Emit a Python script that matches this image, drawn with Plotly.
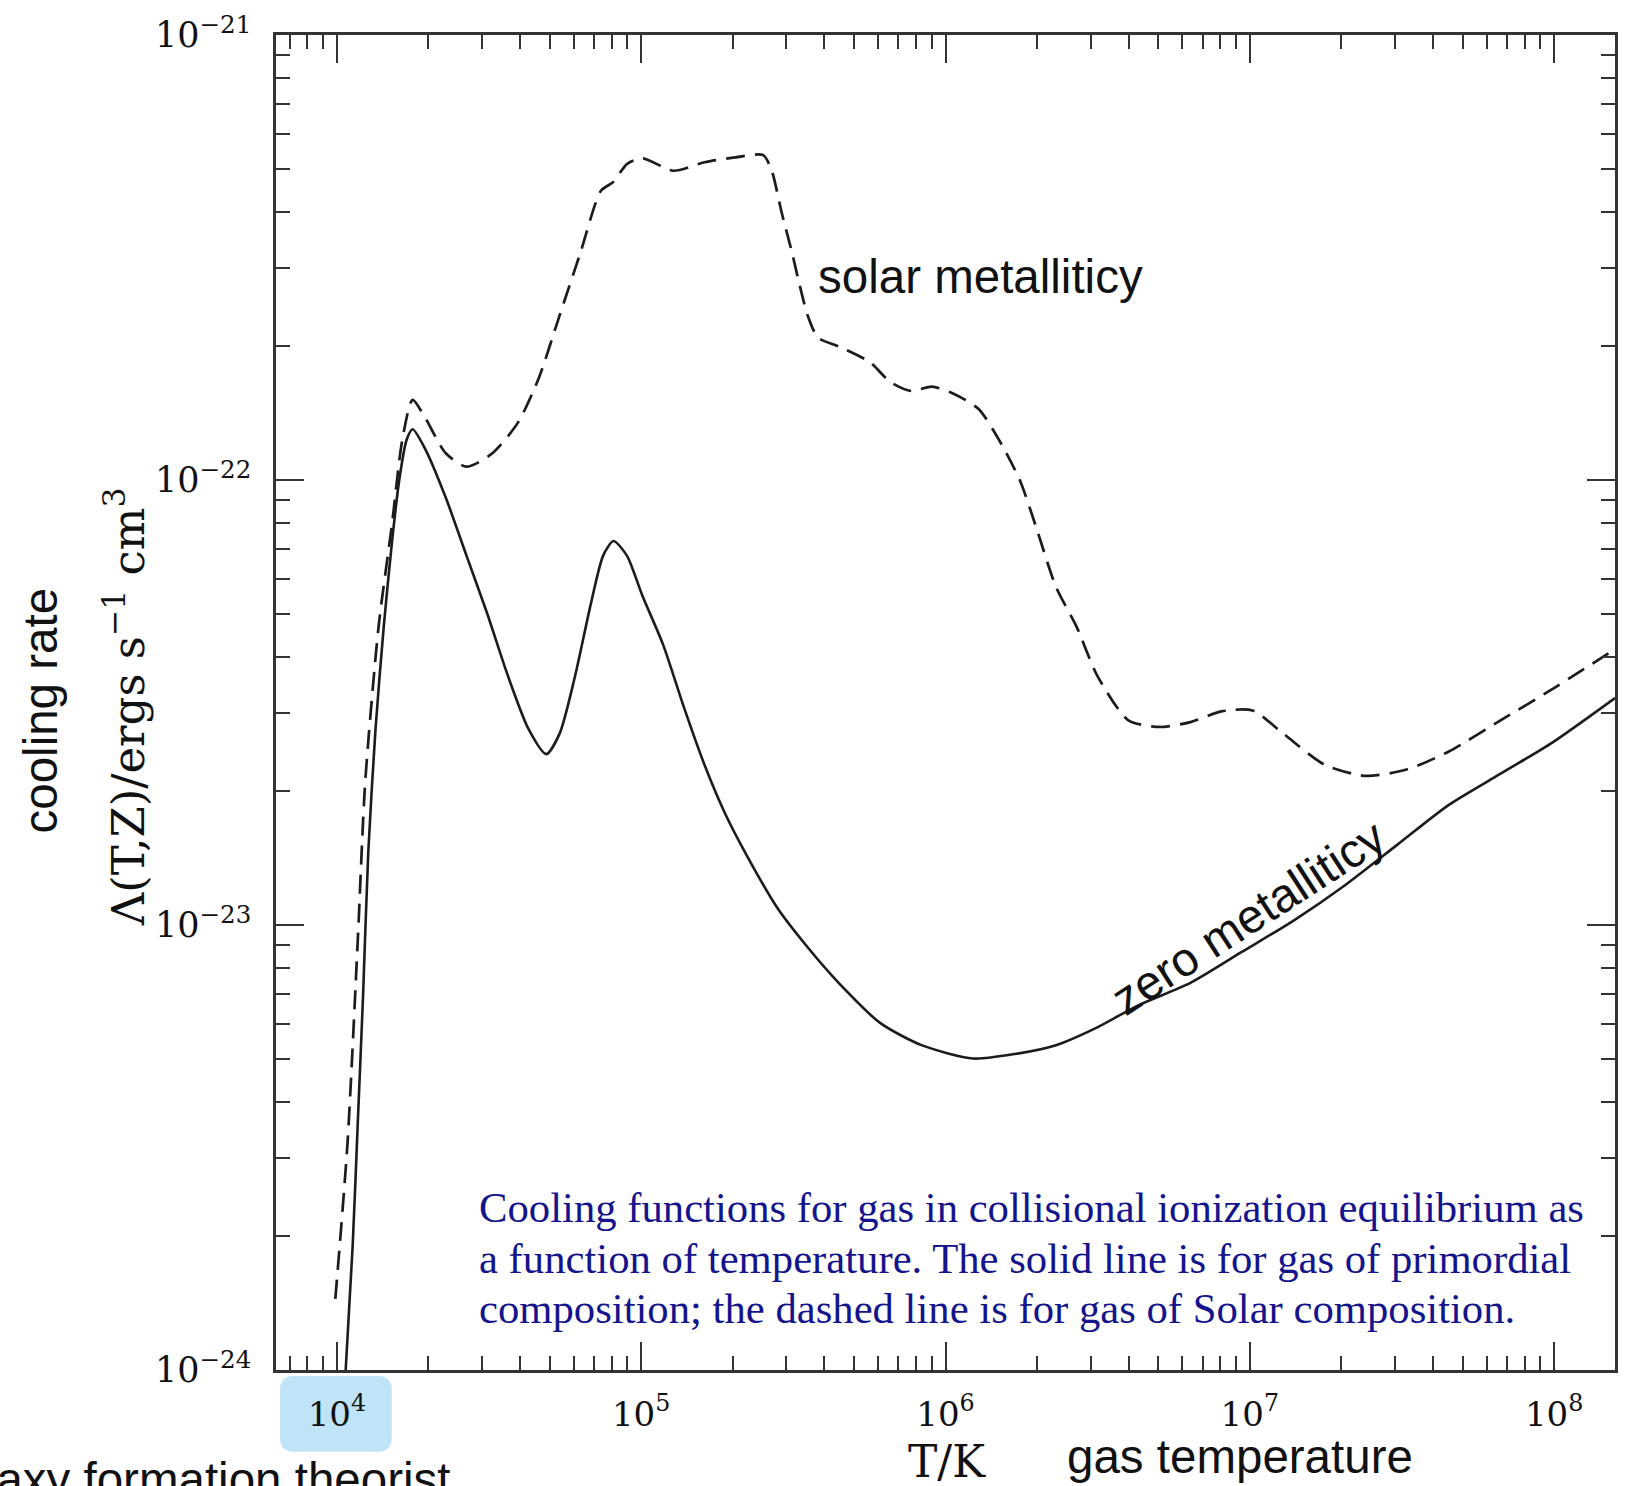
import math
import plotly.graph_objects as go

# ---------------- data (log10 values) ----------------
zero_logT = [4.025, 4.029, 4.052, 4.069, 4.086, 4.103, 4.127, 4.154, 4.181, 4.205, 4.229, 4.249,
             4.290, 4.358, 4.426, 4.494, 4.562, 4.630, 4.688, 4.732, 4.783, 4.834, 4.875,
             4.909, 4.953, 5.004, 5.072, 5.140, 5.208, 5.276, 5.344, 5.446, 5.547, 5.649,
             5.785, 5.921, 6.091, 6.227, 6.363, 6.499, 6.635, 6.805, 6.975, 7.144, 7.314,
             7.484, 7.654, 7.824, 7.994, 8.200]
zero_logL = [-24.10, -24.00, -23.72, -23.44, -23.16, -22.84, -22.56, -22.33, -22.14, -22.00, -21.91, -21.886,
             -21.93, -22.04, -22.17, -22.30, -22.44, -22.56, -22.616, -22.57, -22.44, -22.28, -22.17,
             -22.137, -22.17, -22.26, -22.37, -22.51, -22.64, -22.75, -22.84, -22.96, -23.05, -23.13,
             -23.22, -23.27, -23.30, -23.29, -23.27, -23.23, -23.18, -23.13, -23.06, -22.99, -22.91,
             -22.82, -22.73, -22.66, -22.59, -22.49]

solar_logT = [3.995, 4.035, 4.069, 4.093, 4.137, 4.181, 4.215, 4.249, 4.290, 4.358, 4.426, 4.511,
              4.596, 4.664, 4.732, 4.800, 4.868, 4.909, 4.953, 5.004, 5.106, 5.208, 5.310,
              5.401, 5.429, 5.462, 5.496, 5.520, 5.547, 5.581, 5.649, 5.751, 5.819, 5.887,
              5.955, 6.023, 6.108, 6.176, 6.244, 6.295, 6.363, 6.431, 6.499, 6.601, 6.703,
              6.805, 6.907, 7.009, 7.110, 7.246, 7.382, 7.518, 7.654, 7.824, 7.994, 8.200]
solar_logL = [-23.84, -23.49, -23.03, -22.68, -22.33, -22.10, -21.91, -21.82, -21.86, -21.94, -21.97, -21.94,
              -21.87, -21.77, -21.63, -21.49, -21.35, -21.33, -21.29, -21.277, -21.305, -21.286, -21.275,
              -21.27, -21.305, -21.40, -21.49, -21.56, -21.63, -21.68, -21.70, -21.735, -21.78, -21.80,
              -21.79, -21.805, -21.84, -21.91, -22.00, -22.10, -22.24, -22.33, -22.44, -22.54, -22.555,
              -22.544, -22.52, -22.518, -22.57, -22.64, -22.665, -22.65, -22.61, -22.54, -22.47, -22.38]

x_major = [4, 5, 6, 7, 8]
y_major = [-24, -23, -22, -21]
x_tick_text = ["10<sup>%d</sup>" % e for e in x_major]
y_tick_text = ["10<sup>\u2212%d</sup>" % (-e) for e in y_major]

caption_lines = [
    "Cooling functions for gas in collisional ionization equilibrium as",
    "a function of temperature. The solid line is for gas of primordial",
    "composition; the dashed line is for gas of Solar composition.",
]

# ---------------- figure ----------------
W, H = 1628, 1486
L, R, T, B = 276, 1618, 29, 1370

def px(x):
    return (x - L) / (R - L)

def py(y):
    return (B - y) / (B - T)

x_minor = [m * 10 ** e for e in range(3, 9) for m in range(2, 10)
           if 3.8 <= e + math.log10(m) <= 8.2]
y_minor = [m * 10 ** e for e in range(-24, -21) for m in range(2, 10)]

fig = go.Figure()
line_col = "#1c1c1c"
fig.add_trace(go.Scatter(x=[10 ** v for v in zero_logT], y=[10 ** v for v in zero_logL],
                         mode="lines", line=dict(color=line_col, width=2.6, shape="spline", smoothing=0.7),
                         showlegend=False, hoverinfo="skip"))
fig.add_trace(go.Scatter(x=[10 ** v for v in solar_logT], y=[10 ** v for v in solar_logL],
                         mode="lines", line=dict(color=line_col, width=2.7, dash="19px,10px",
                                                 shape="spline", smoothing=0.7),
                         showlegend=False, hoverinfo="skip"))

fig.update_xaxes(type="log", range=[3.8, 8.2], showgrid=False, zeroline=False,
                 showline=True, linecolor="#333", linewidth=2.5, mirror="ticks",
                 ticks="inside", ticklen=28, tickwidth=2, tickcolor="#333",
                 tickmode="array", tickvals=[10 ** e for e in x_major], ticktext=x_tick_text,
                 tickfont=dict(family="DejaVu Serif", size=34, color="#111"),
                 ticklabelstandoff=12,
                 minor=dict(ticks="inside", ticklen=14, tickwidth=2, tickcolor="#333",
                            tickmode="array", tickvals=x_minor, showgrid=False))
fig.update_yaxes(type="log", range=[-24, -21], showgrid=False, zeroline=False,
                 showline=True, linecolor="#333", linewidth=2.5, mirror="ticks",
                 ticks="inside", ticklen=28, tickwidth=2, tickcolor="#333",
                 tickmode="array", tickvals=[10 ** e for e in y_major], ticktext=y_tick_text,
                 tickfont=dict(family="DejaVu Serif", size=35, color="#111"), ticklabelstandoff=15,
                 minor=dict(ticks="inside", ticklen=14, tickwidth=2, tickcolor="#333",
                            tickmode="array", tickvals=y_minor, showgrid=False))

# highlight box behind the 10^4 label
bx0, bx1, by0, by1, r = 280, 392, 1376, 1452, 14
path = (f"M {px(bx0 + r)},{py(by0)} L {px(bx1 - r)},{py(by0)} Q {px(bx1)},{py(by0)} {px(bx1)},{py(by0 + r)} "
        f"L {px(bx1)},{py(by1 - r)} Q {px(bx1)},{py(by1)} {px(bx1 - r)},{py(by1)} "
        f"L {px(bx0 + r)},{py(by1)} Q {px(bx0)},{py(by1)} {px(bx0)},{py(by1 - r)} "
        f"L {px(bx0)},{py(by0 + r)} Q {px(bx0)},{py(by0)} {px(bx0 + r)},{py(by0)} Z")
fig.add_shape(type="path", path=path, xref="paper", yref="paper",
              fillcolor="#bfe4f8", line=dict(width=0), layer="below")

sans = "Liberation Sans"
ann = []
ann.append(dict(x=px(982), y=py(272), text="solar metallitiсy", showarrow=False,
                font=dict(family=sans, size=47.5, color="#111"), xanchor="center", yanchor="middle"))
ann.append(dict(x=px(1250), y=py(915), text="zero metallitiсy", showarrow=False, textangle=-33,
                font=dict(family=sans, size=47.5, color="#111"), xanchor="center", yanchor="middle"))
for i, line in enumerate(caption_lines):
    ann.append(dict(x=px(477), y=py(1207 + 50.5 * i), text=line, showarrow=False,
                    font=dict(family="Liberation Serif", size=42.7, color="#14148c"),
                    xanchor="left", yanchor="middle"))
ann.append(dict(x=px(126), y=py(704), text="\u039b(T,Z)/ergs s<sup>\u22121</sup> cm<sup>3</sup>",
                showarrow=False, textangle=-90,
                font=dict(family="DejaVu Serif", size=45, color="#111"),
                xanchor="center", yanchor="middle"))
ann.append(dict(x=px(40), y=py(708), text="cooling rate", showarrow=False, textangle=-90,
                font=dict(family=sans, size=47.5, color="#111"), xanchor="center", yanchor="middle"))
ann.append(dict(x=px(949), y=py(1462), text="T/K", showarrow=False,
                font=dict(family="DejaVu Serif", size=44, color="#111"),
                xanchor="center", yanchor="middle"))
ann.append(dict(x=px(1242), y=py(1457), text="gas temperature", showarrow=False,
                font=dict(family=sans, size=47.5, color="#111"), xanchor="center", yanchor="middle"))
ann.append(dict(x=px(452), y=py(1451), text="galaxy formation theorist", showarrow=False,
                font=dict(family=sans, size=47.5, color="#111"), xanchor="right", yanchor="top"))
for a in ann:
    a.update(xref="paper", yref="paper")

fig.update_layout(width=W, height=H, autosize=False,
                  margin=dict(l=L, r=W - R, t=T, b=H - B, pad=0),
                  paper_bgcolor="white", plot_bgcolor="white",
                  annotations=ann, showlegend=False)

fig.write_html("out.html")
